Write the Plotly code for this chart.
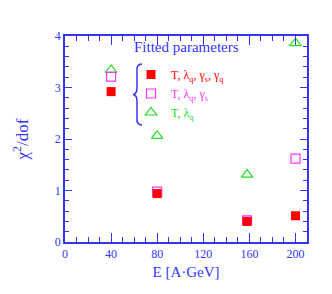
import plotly.graph_objects as go

energies = [40, 80, 158, 200]
chi_full = [2.92, 0.94, 0.40, 0.51]       # T, lq, gs, gq
chi_mid = [3.21, 0.98, 0.42, 1.62]        # T, lq, gs
chi_two = [3.34, 2.06, 1.31, 3.86]        # T, lq

BLUE = "#3535f5"
FONT = "Liberation Serif"

# plot area in pixels (screen): left 65, top 36, width 242, height 206
L, T, W, H = 65, 36, 242, 206
def px(x): return (x - L) / W
def py(y): return (T + H - y) / H

fig = go.Figure()
fig.add_trace(go.Scatter(x=energies, y=chi_two, mode="markers",
    name="<span style='color:#22dd22'>T, λ<sub>q</sub></span>",
    marker=dict(symbol="triangle-up-open", size=10, color="#22dd22", line=dict(width=1.2))))
fig.add_trace(go.Scatter(x=energies, y=chi_mid, mode="markers",
    name="<span style='color:#ff33ff'>T, λ<sub>q</sub>, γ<sub>s</sub></span>",
    marker=dict(symbol="square-open", size=9, color="#ff33ff", line=dict(width=1.2))))
fig.add_trace(go.Scatter(x=energies, y=chi_full, mode="markers",
    name="<span style='color:#ff0000'>T, λ<sub>q</sub>, γ<sub>s</sub>, γ<sub>q</sub></span>",
    marker=dict(symbol="square", size=9, color="#ff0000")))

axis_common = dict(showgrid=False, zeroline=False, showline=True, linecolor=BLUE, linewidth=1.5,
                   mirror="allticks", ticks="inside", tickcolor=BLUE,
                   tickfont=dict(family=FONT, size=12, color=BLUE))
fig.update_xaxes(range=[0, 210], tickvals=[0, 40, 80, 120, 160, 200], ticklen=9,
                 minor=dict(dtick=10, ticks="inside", ticklen=5, tickcolor=BLUE),
                 title=dict(text="E [A·GeV]", font=dict(family=FONT, size=15, color=BLUE), standoff=6),
                 **axis_common)
fig.update_yaxes(range=[0, 4], tickvals=[0, 1, 2, 3, 4], ticklen=7,
                 minor=dict(dtick=0.2, ticks="inside", ticklen=4, tickcolor=BLUE),
                 title=dict(text="χ<sup>2</sup>/dof", font=dict(family=FONT, size=17, color=BLUE), standoff=22),
                 **axis_common)

# curly brace drawn as a path in paper coordinates
pts = {
    "a": (142, 64), "c1": (136, 64), "b": (137, 72), "d": (137, 88),
    "c2": (137, 94), "e": (133, 94.5), "c3": (137, 95), "f": (137, 101),
    "g": (137, 117), "c4": (136, 125), "h": (142, 125),
}
P = {k: f"{px(v[0]):.4f},{py(v[1]):.4f}" for k, v in pts.items()}
brace = (f"M {P['a']} Q {P['c1']} {P['b']} L {P['d']} Q {P['c2']} {P['e']} "
         f"Q {P['c3']} {P['f']} L {P['g']} Q {P['c4']} {P['h']}")

fig.update_layout(
    width=332, height=294, margin=dict(l=57, r=33, t=28, b=60),
    paper_bgcolor="white", plot_bgcolor="white",
    showlegend=True,
    legend=dict(x=px(131), y=py(60), xanchor="left", yanchor="top", bgcolor="rgba(0,0,0,0)",
                font=dict(family=FONT, size=12), traceorder="reversed", itemwidth=30,
                tracegroupgap=0),
    shapes=[dict(type="path", xref="paper", yref="paper", path=brace,
                 line=dict(color=BLUE, width=1.5))],
    annotations=[
        dict(text="Fitted parameters", xref="paper", yref="paper", x=px(132), y=py(47),
             xanchor="left", yanchor="middle", showarrow=False,
             font=dict(family=FONT, size=15, color=BLUE)),
    ],
)
fig.write_html("out.html")
